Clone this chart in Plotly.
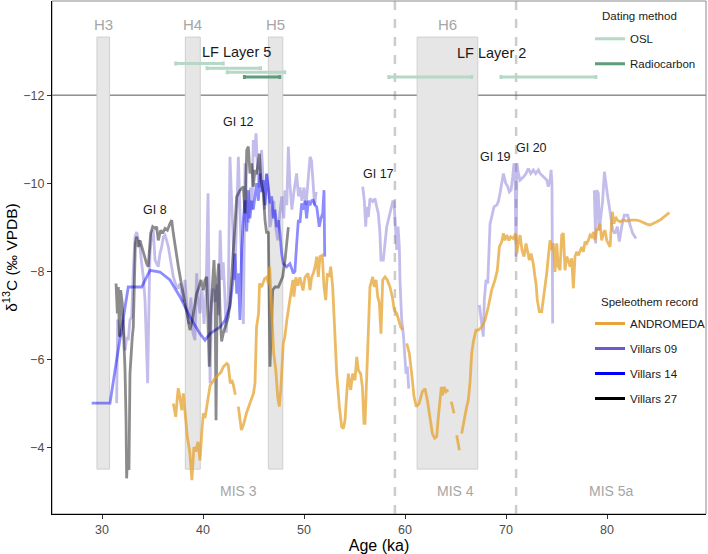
import plotly.graph_objects as go

# ---------------- data ----------------
andro_age = [37.06, 37.30, 37.45, 37.55, 37.70, 37.90, 38.05, 38.20, 38.45, 38.70, 38.90, 39.10, 39.30, 39.50, 39.70, 39.90,
             40.03, 40.20, 40.40, 40.70, 41.00, 41.20, 41.50, 41.80, 42.00, 42.20, 42.35, 42.50, 42.70, 42.85, 43.00, 43.20, None,
             43.50, 43.80, 44.00, 44.30, 44.65, 45.00, 45.15, 45.30, 45.50, 45.60, 45.80, 46.10, 46.30, 46.50, 46.60, 46.70,
             46.80, 47.00, 47.20, 47.40, 47.55, 47.70, 47.95, 48.10, 48.30, 48.40, 48.60, 48.80, 48.90, 49.00, 49.20, 49.40,
             49.60, 49.90, 50.10, 50.40, 50.59, 50.75, 50.92, 51.10, 51.26, 51.42, 51.58, 51.81, 51.98, 52.15, 52.31, 52.51,
             52.64, 52.84, 53.07, 53.24, 53.50, 53.73, 53.89, 54.06, 54.23, 54.39, 54.62, 54.82, 55.05, 55.22, 55.38, 55.61,
             55.78, 55.94, 56.04, 56.21, 56.37, 56.53, 56.80, 56.96, 57.13, 57.30, 57.46, 57.62, 57.79, 58.02, 58.25, 58.51,
             58.74, 58.94, 59.18, 59.34, 59.57, 59.77, None,
             60.17, 60.43, 60.66, 60.89, 61.12, 61.39, 61.72, 61.98, 62.21, 62.48, 62.71, 62.94, 63.14, 63.30, 63.47, 63.60,
             63.73, 63.86, 64.06, 64.29, None, 64.59, 64.85, None, 65.12, 65.38, None,
             65.61, 65.84, 66.11, 66.27, 66.44, 66.60, 66.77, 67.03, 67.26, 67.60, 67.92, 68.25, 68.58, 68.91, 69.14, 69.34,
             69.58, 69.74, 69.90, 70.07, 70.30, 70.47, 70.73, 70.96, 71.06, 71.22, 71.39, 71.58, 71.78, 71.98, 72.15, 72.31,
             72.48, 72.70, 72.85, 72.97, 73.10, 73.30, 73.53, 73.70, 73.86, 74.03, 74.19, 74.36, 74.53, 74.69, 74.85, 75.02,
             75.18, 75.35, 75.51, 75.68, 75.84, 76.01, 76.17, 76.34, 76.50, 76.67, 76.83, 77.00, 77.16, 77.33, 77.50, 77.66,
             77.82, 77.99, 78.15, 78.32, 78.49, 78.65, 78.81, 78.98, 79.14, 79.31, 79.47, 79.64, 79.80, 79.97, 80.13, 80.30,
             80.40, 80.53, 80.69, 80.86, 81.02, 81.29, 81.62, 81.95, 82.28, 82.61, 82.94, 83.27, 83.60, 83.93, 84.26, 84.59,
             84.92, 85.25, 85.58, 85.91, 86.17]
andro_d13c = [-4.99, -4.69, -5.10, -5.34, -5.15, -4.84, -5.22, -4.77, -4.23, -3.86, -3.25, -4.00, -3.90, -4.12, -3.70, -4.40,
              -4.77, -4.66, -5.00, -5.40, -5.50, -5.57, -5.64, -5.71, -5.82, -5.86, -5.90, -5.87, -5.45, -5.53, -5.42, -5.19, None,
              -4.92, -4.39, -4.50, -4.77, -5.00, -5.22, -5.46, -6.73, -7.03, -7.72, -7.64, -7.83, -7.86, -7.70, -8.10, -7.50,
              -6.89, -6.13, -5.77, -5.14, -4.92, -5.30, -6.36, -6.50, -6.89, -7.04, -7.27, -7.65, -7.80, -7.42, -7.86, -7.67,
              -7.86, -7.56, -7.86, -7.95, -7.57, -7.86, -7.95, -8.10, -8.33, -7.87, -8.33, -8.36, -7.64, -7.34, -7.95, -7.87,
              -8.10, -7.64, -6.43, -5.67, -4.92, -4.46, -4.42, -4.61, -5.22, -5.67, -5.30, -5.67, -5.52, -6.05, -5.75, -5.67,
              -5.37, -4.54, -4.54, -5.67, -6.81, -7.64, -7.87, -7.64, -7.80, -7.42, -7.27, -6.58, -7.80, -7.87, -7.80, -7.64,
              -7.42, -7.11, -7.04, -6.89, -6.73, -6.66, None,
              -6.36, -6.13, -5.67, -5.15, -4.92, -4.99, -5.26, -5.33, -5.07, -4.61, -4.31, -4.20, -4.24, -4.69, -5.14, -5.37,
              -5.18, -5.37, -5.26, -5.30, None, -5.03, -4.77, None, -4.27, -3.93, None,
              -4.31, -4.61, -4.92, -5.07, -5.48, -6.13, -6.40, -6.66, -6.66, -6.73, -6.89, -7.19, -7.57, -7.80, -8.02, -8.55,
              -8.67, -8.86, -8.70, -8.82, -8.70, -8.78, -8.74, -8.86, -8.40, -8.63, -8.82, -8.48, -8.33, -8.63, -8.40, -8.25,
              -8.40, -8.17, -7.90, -7.72, -7.34, -7.08, -7.08, -7.34, -7.64, -7.95, -8.33, -8.70, -8.48, -8.63, -7.98, -8.63,
              -8.10, -8.02, -8.82, -8.86, -8.02, -8.33, -8.25, -8.10, -8.29, -7.61, -8.33, -8.44, -8.36, -8.48, -8.55, -8.44,
              -8.67, -8.63, -8.70, -8.82, -8.78, -8.89, -8.70, -8.97, -8.93, -9.08, -8.70, -8.86, -8.93, -8.70, -8.63, -8.55,
              -8.93, -9.35, -9.08, -9.23, -9.16, -9.12, -9.16, -9.14, -9.16, -9.16, -9.16, -9.14, -9.10, -9.07, -9.05, -9.08,
              -9.12, -9.16, -9.22, -9.27, -9.33]

v09_age = [31.45, 31.55, 31.75, 31.95, 32.10, 32.28, 32.45, 32.60, 32.77, 32.94, 33.10, 33.27, 33.43, 33.60, 33.76, 33.93,
           34.09, 34.26, 34.43, 34.52, 34.62, 34.75, 34.92, 35.08, 35.25, 35.41, 35.57, 35.74, 35.91, 36.07, 36.24, 36.40,
           36.57, 36.73, 36.90, 37.06, 37.30, 37.50, 37.72, 37.90, 38.05, 38.22, 38.40, 38.60, 38.80, 39.00, 39.20, 39.37,
           39.55, 39.70, 39.90, 40.10, 40.30, 40.50, 40.60, 40.70, 40.85, 41.00, 41.20, 41.40, 41.55, 41.70, 41.85, 42.00,
           42.15, 42.30, 42.50, 42.67, 42.80, 42.95, 43.10, 43.25, 43.50, 43.65, 43.80, 44.00, 44.16, 44.30, 44.50, 44.70,
           44.85, 44.98, 45.10, 45.25, 45.40, 45.55, 45.80, 45.95, 46.10, 46.30, 46.50, 46.65, 46.80, 47.00, 47.20, 47.40,
           47.60, 47.80, 48.00, 48.12, 48.30, 48.45, 48.60, 48.80, 49.00, 49.27, 49.45, 49.60, 49.80, 50.00, 50.20, 50.40,
           50.60, 50.75, 50.90, 51.05, 51.20, None,
           55.81, 55.97, 56.11, 56.21, 56.37, 56.53, 56.80, 57.03, 57.20, 57.36, 57.52, 57.62, 57.85, 58.02, 58.19, 58.42,
           58.61, 58.78, 58.91, 59.04, 59.18, 59.31, 59.44, 59.50, 59.60, 59.67, 59.83, 60.00, 60.10, 60.23, 60.37, None,
           67.36, 67.52, 67.75, 67.85, 68.02, 68.19, 68.32, 68.42, 68.58, 68.81, 69.08, 69.24, 69.41, 69.58, 69.74, 69.97,
           70.17, 70.33, 70.50, 70.66, 70.79, 70.89, 70.99, 71.09, 71.22, 71.39, 71.72, 71.98, 72.21, 72.45, 72.71, 72.94,
           73.20, 73.37, 73.70, 74.03, 74.19, 74.36, 74.46, 74.55, 74.62, None,
           78.74, 78.88, 78.98, 79.14, 79.24, 79.41, 79.57, 79.74, 79.90, 80.07, 80.23, 80.40, 80.56, 80.79, 81.02, 81.22,
           81.45, 81.71, 82.05, 82.28, 82.54, 82.87]
v09_d13c = [-5.00, -6.90, -6.50, -6.58, -6.90, -6.20, -6.50, -6.43, -6.89, -6.96, -8.02, -8.78, -8.89, -8.70, -8.55, -8.17,
            -7.87, -7.34, -6.13, -5.45, -6.89, -8.40, -8.86, -8.93, -8.25, -8.17, -8.10, -8.40, -8.55, -8.78, -8.82, -8.70,
            -8.55, -8.33, -8.10, -7.87, -7.70, -7.60, -7.72, -7.50, -7.30, -7.80, -7.20, -6.80, -7.40, -6.60, -6.43, -7.95,
            -7.30, -7.04, -7.60, -6.80, -7.50, -9.77, -7.00, -5.45, -7.20, -7.60, -7.30, -7.70, -7.00, -8.93, -7.80, -8.20,
            -7.50, -6.60, -7.40, -10.60, -9.80, -9.00, -7.80, -8.60, -10.60, -9.30, -8.20, -6.80, -10.45, -9.60, -9.10, -9.90,
            -9.40, -10.98, -10.60, -11.13, -10.30, -9.90, -10.75, -10.00, -9.40, -10.20, -9.80, -9.00, -9.31, -9.60, -9.00, -8.70,
            -9.30, -9.70, -9.20, -9.84, -9.50, -10.83, -10.00, -9.40, -9.80, -10.22, -9.70, -9.90, -9.60, -9.90, -9.50, -10.10,
            -10.60, -10.50, -9.90, -9.50, -9.80, None,
            -9.92, -9.61, -9.01, -9.46, -9.23, -9.65, -9.58, -9.65, -9.46, -9.31, -8.86, -8.25, -8.25, -8.70, -9.01, -9.23,
            -9.39, -9.58, -9.58, -8.86, -8.48, -9.01, -8.55, -7.80, -7.34, -6.89, -6.58, -6.13, -5.67, -5.83, -5.33, None,
            -7.23, -6.89, -6.51, -7.34, -7.80, -7.72, -8.48, -9.08, -9.23, -9.46, -9.50, -9.58, -9.77, -10.00, -10.22, -10.00,
            -9.92, -9.80, -9.84, -10.14, -10.45, -10.37, -8.33, -10.45, -10.22, -10.07, -10.14, -10.22, -10.33, -10.22, -10.30, -10.22,
            -10.30, -10.22, -10.14, -10.07, -9.92, -10.07, -10.30, -10.00, -6.81, None,
            -9.84, -8.63, -9.84, -9.77, -8.93, -9.23, -9.61, -10.26, -9.92, -9.69, -9.46, -9.16, -8.93, -8.86, -9.01, -8.67,
            -9.01, -9.27, -9.27, -9.05, -8.86, -8.74]

v14_age = [28.98, 30.79, 31.45, 32.10, 32.60, 33.93, 34.42, 34.75, 35.74, 36.73, 37.72, 38.71, 39.70, 40.20, 40.70, 41.70,
           42.20, 42.67, 43.00, 43.17, 43.34, 43.50, 43.66, 43.83, 43.99, 44.16, 44.33, 44.49, 44.65, 44.82, 44.98, 45.15,
           45.31, 45.48, 45.64, 45.80, 45.97, 46.14, 46.30, 46.47, 46.63, 46.80, 46.96, 47.13, 47.30, 47.46, 47.62, 47.79,
           47.95, 48.28, 48.61, 48.94, 49.10, 49.27, 49.44, 49.60, 49.77, 49.93, 50.10, 50.26, 50.43, 50.59, 50.76, 50.92,
           51.09, 51.26, 51.51, 51.68, 51.85, 51.98, 52.02, 52.05]
v14_d13c = [-5.00, -5.00, -5.98, -6.96, -7.64, -7.64, -7.87, -8.02, -7.98, -7.80, -7.42, -6.96, -6.58, -6.43, -6.58, -6.73,
            -6.89, -7.19, -7.87, -8.40, -7.49, -7.95, -6.89, -8.50, -9.16, -9.61, -8.90, -9.84, -9.20, -9.60, -9.40, -9.70,
            -10.00, -9.60, -10.22, -9.80, -10.07, -9.50, -10.22, -9.90, -9.54, -9.70, -9.20, -9.40, -9.00, -9.16, -8.86, -8.40,
            -8.17, -8.10, -8.17, -7.95, -8.00, -8.60, -9.16, -9.10, -9.54, -9.40, -9.60, -9.20, -9.60, -9.50, -9.60, -9.61,
            -9.50, -9.46, -9.01, -9.20, -9.31, -9.84, -9.00, -8.33]

v27_age = [31.39, 31.52, 31.62, 31.72, 31.85, 32.01, 32.11, 32.28, 32.38, 32.44, 32.54, 32.67, 32.77, 32.87, 33.00, 33.10,
           33.20, 33.30, 33.43, 33.60, 33.76, 33.93, 34.09, 34.26, 34.42, 34.58, 34.70, 34.82, 35.02, 35.25, 35.41, 35.57,
           35.81, 36.00, 36.24, 36.47, 36.73, 36.90, 37.06, 37.33, 37.56, 37.79, 38.05, 38.28, 38.49, 38.71, 38.94, 39.14,
           39.37, 39.60, 39.80, 40.03, 40.20, 40.37, 40.45, 40.62, 40.75, 40.92, 41.09, 41.19, 41.29, 41.42, 41.55, 41.70,
           41.84, 42.00, 42.28, 42.50, 42.67, 42.84, 43.00, 43.17, 43.34, 43.66, 43.99, 44.16, 44.33, 44.49, 44.65, 44.82,
           44.98, 45.15, 45.31, 45.58, 45.74, 45.97, 46.14, 46.30, 46.47, 46.63, 46.73, 46.90, 47.13, 47.46, 47.62, 47.89,
           48.12, 48.28, 48.45]
v27_d13c = [-7.72, -7.04, -7.64, -6.51, -7.57, -7.27, -6.73, -5.75, -4.61, -3.29, -3.86, -3.48, -5.67, -6.13, -6.51, -6.73,
            -7.64, -8.63, -8.78, -8.55, -8.70, -8.55, -8.40, -8.25, -8.17, -8.10, -8.50, -8.86, -9.01, -8.97, -9.01, -8.70,
            -8.93, -8.86, -8.97, -8.93, -9.08, -9.16, -8.86, -8.40, -8.10, -7.80, -7.49, -7.19, -6.89, -6.66, -6.89, -7.19,
            -7.49, -7.64, -7.80, -7.57, -7.80, -7.87, -7.30, -5.83, -7.00, -7.64, -8.25, -7.64, -4.61, -7.80, -8.17, -7.00,
            -6.40, -6.58, -6.80, -6.96, -7.27, -7.87, -8.55, -9.16, -9.69, -9.84, -9.92, -9.31, -10.75, -10.83, -10.22, -10.45,
            -9.92, -10.30, -10.20, -10.67, -10.07, -9.77, -9.16, -8.86, -8.90, -5.83, -6.51, -7.57, -7.64, -7.64, -7.72, -7.87,
            -8.25, -8.55, -9.00]

# dating ranges (ka) and plotting level
osl_lo = [37.3, 40.4, 42.4, 58.4, 69.5]
osl_hi = [42.0, 45.7, 48.1, 66.6, 78.9]
osl_lvl = [-12.72, -12.61, -12.52, -12.41, -12.41]
c14_lo = [44.1]
c14_hi = [47.6]
c14_lvl = [-12.41]

# Heinrich events
h_names = ["H3", "H4", "H5", "H6"]
h_start = [29.5, 38.25, 46.47, 61.2]
h_end = [30.75, 39.73, 47.9, 67.2]
h_bottom = -3.5
h_top = -13.32
h_label_y = -13.6

# MIS boundaries and labels
mis_bounds = [59.0, 71.0]
mis_names = ["MIS 3", "MIS 4", "MIS 5a"]
mis_x = [43.5, 65.0, 80.4]
mis_y = -3.0

# Interstadial labels
gi_names = ["GI 8", "GI 12", "GI 17", "GI 19", "GI 20"]
gi_x = [35.2, 43.5, 57.4, 69.0, 72.5]
gi_y = [-9.38, -11.4, -10.2, -10.6, -10.8]

layer_names = ["LF Layer 5", "LF Layer 2"]
layer_x = [43.3, 68.6]
layer_y = [-12.98, -12.95]

x_ticks = [30, 40, 50, 60, 70, 80]
y_ticks = [-12, -10, -8, -6, -4]

# ---------------- styles ----------------
FONT = "Liberation Sans, Arial, sans-serif"
C_AND = "rgba(230,159,40,0.72)"
C_V09 = "rgba(106,90,205,0.4)"
C_V14 = "rgba(0,0,255,0.45)"
C_V27 = "rgba(0,0,0,0.45)"
C_OSL = "#b6d8c7"
C_C14 = "#5f9c7c"
LW = 2.8
LEG_FS = 11.5

fig = go.Figure()

# Heinrich boxes
for s, e in zip(h_start, h_end):
    fig.add_shape(type="rect", xref="x", yref="y", x0=s, x1=e, y0=h_bottom, y1=h_top,
                  fillcolor="#e6e6e6", line=dict(color="#cfcfcf", width=1), layer="below")
# MIS boundaries
for b in mis_bounds:
    fig.add_shape(type="line", xref="x", yref="paper", x0=b, x1=b, y0=0, y1=1,
                  line=dict(color="#cccccc", width=2.5, dash="dash"), layer="below")
# separator at -12
fig.add_shape(type="line", xref="paper", yref="y", x0=0, x1=1, y0=-12, y1=-12,
              line=dict(color="#555555", width=1), layer="below")
# frame
fig.add_shape(type="rect", xref="paper", yref="paper", x0=0, x1=1, y0=0, y1=1,
              line=dict(color="#8a8a8a", width=1), layer="below")

# speleothem records
fig.add_trace(go.Scatter(x=v09_age, y=v09_d13c, mode="lines", line=dict(color=C_V09, width=LW),
                         showlegend=False, connectgaps=False, hoverinfo="skip"))
fig.add_trace(go.Scatter(x=v14_age, y=v14_d13c, mode="lines", line=dict(color=C_V14, width=LW),
                         showlegend=False, hoverinfo="skip"))
fig.add_trace(go.Scatter(x=v27_age, y=v27_d13c, mode="lines", line=dict(color=C_V27, width=LW),
                         showlegend=False, hoverinfo="skip"))
fig.add_trace(go.Scatter(x=andro_age, y=andro_d13c, mode="lines", line=dict(color=C_AND, width=LW),
                         showlegend=False, connectgaps=False, hoverinfo="skip"))

# dating ranges
def add_ranges(lo, hi, lvl, color):
    ctr = [(a + b) / 2 for a, b in zip(lo, hi)]
    half = [(b - a) / 2 for a, b in zip(lo, hi)]
    fig.add_trace(go.Scatter(x=ctr, y=lvl, mode="markers",
                             marker=dict(size=1, color="rgba(0,0,0,0)"),
                             error_x=dict(type="data", array=half, symmetric=True, color=color,
                                          thickness=3, width=2),
                             showlegend=False, hoverinfo="skip"))

add_ranges(osl_lo, osl_hi, osl_lvl, C_OSL)
add_ranges(c14_lo, c14_hi, c14_lvl, C_C14)

# legend entries
for i, (nm, col) in enumerate([("OSL", C_OSL), ("Radiocarbon", C_C14)]):
    fig.add_trace(go.Scatter(x=[None], y=[None], mode="lines", name=nm, line=dict(color=col, width=3),
                             legend="legend", legendgroup="d%d" % i))
for i, (nm, col) in enumerate([("ANDROMEDA", "#E8A33D"), ("Villars 09", "#6A5ACD"),
                                ("Villars 14", "#0000FF"), ("Villars 27", "#000000")]):
    fig.add_trace(go.Scatter(x=[None], y=[None], mode="lines", name=nm, line=dict(color=col, width=3),
                             legend="legend2", legendgroup="s%d" % i))

# legend titles
fig.add_annotation(xref="paper", yref="paper", x=0.838, y=0.9713, xanchor="left", yanchor="middle",
                   text="Dating method", showarrow=False, font=dict(size=LEG_FS, color="#1a1a1a", family=FONT))
fig.add_annotation(xref="paper", yref="paper", x=0.8364, y=0.4138, xanchor="left", yanchor="middle",
                   text="Speleothem record", showarrow=False, font=dict(size=LEG_FS, color="#1a1a1a", family=FONT))

# annotations
for nm, s, e in zip(h_names, h_start, h_end):
    fig.add_annotation(x=(s + e) / 2, y=h_label_y, text=nm, showarrow=False,
                       font=dict(size=15, color="#a6a6a6", family=FONT))
for nm, xx in zip(mis_names, mis_x):
    fig.add_annotation(x=xx, y=mis_y, text=nm, showarrow=False,
                       font=dict(size=14, color="#a6a6a6", family=FONT))
for nm, xx, yy in zip(gi_names, gi_x, gi_y):
    fig.add_annotation(x=xx, y=yy, text=nm, showarrow=False,
                       font=dict(size=12.5, color="#1a1a1a", family=FONT))
for nm, xx, yy in zip(layer_names, layer_x, layer_y):
    fig.add_annotation(x=xx, y=yy, text=nm, showarrow=False,
                       font=dict(size=14.5, color="#1a1a1a", family=FONT))

fig.update_layout(
    width=708, height=554,
    margin=dict(l=52, r=2, t=1, b=40, autoexpand=False),
    paper_bgcolor="white", plot_bgcolor="white",
    font=dict(family=FONT, size=13, color="#1a1a1a"),
    xaxis=dict(range=[25.05, 89.8], tickvals=x_ticks, ticks="outside", ticklen=4, tickcolor="#333",
               showline=True, linecolor="black", linewidth=1.3, showgrid=False, zeroline=False,
               tickfont=dict(size=12.5, color="#4d4d4d"),
               title=dict(text="Age (ka)", font=dict(size=16, color="black"), standoff=3)),
    yaxis=dict(range=[-2.48, -14.14], tickvals=y_ticks, ticks="outside", ticklen=4, tickcolor="#333",
               showline=True, linecolor="black", linewidth=1.3, showgrid=False, zeroline=False,
               tickfont=dict(size=12.5, color="#4d4d4d"),
               title=dict(text="δ<sup>13</sup>C (‰ VPDB)", font=dict(size=15.5, color="black"), standoff=7)),
    legend=dict(x=0.8226, y=0.9546, xanchor="left", yanchor="top", bgcolor="rgba(0,0,0,0)",
                traceorder="grouped", tracegroupgap=6, font=dict(size=LEG_FS)),
    legend2=dict(x=0.8226, y=0.3996, xanchor="left", yanchor="top", bgcolor="rgba(0,0,0,0)",
                 traceorder="grouped", tracegroupgap=6, font=dict(size=LEG_FS)),
)

fig.write_html("out.html", config={"displayModeBar": False},
               post_script="document.body.style.margin='0';document.body.style.padding='0';")
